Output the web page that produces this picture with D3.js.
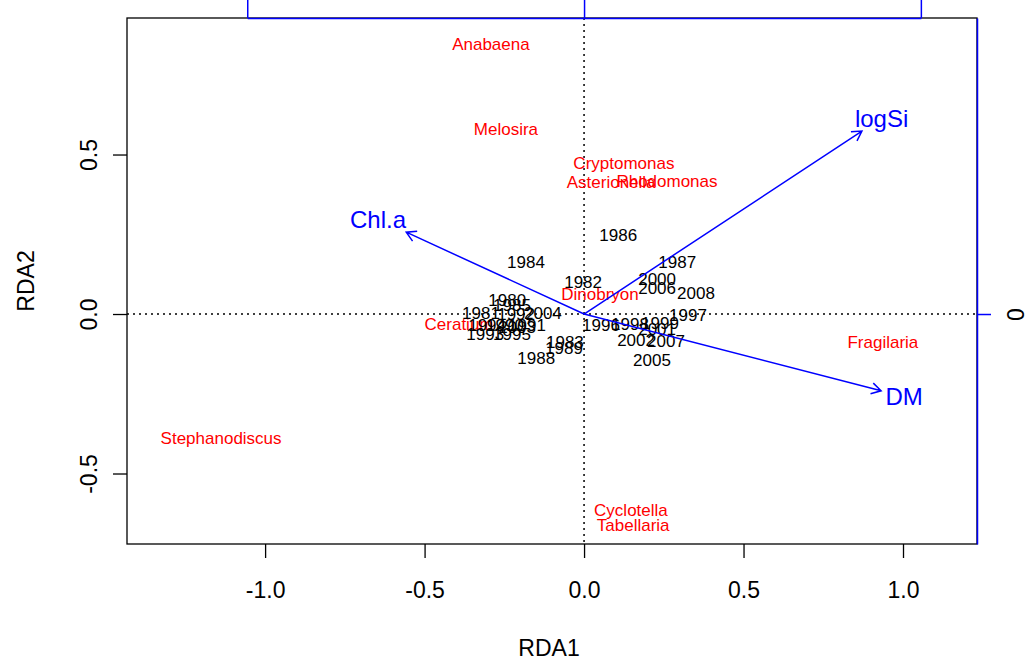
<!DOCTYPE html>
<html>
<head>
<meta charset="utf-8">
<script src="https://cdn.jsdelivr.net/npm/d3@7"></script>
<style>
  body { margin: 0; background: #fff; }
  svg { display: block; }
  text { font-family: "Liberation Sans", Arial, Helvetica, sans-serif; }
</style>
</head>
<body>
<svg id="chart" width="1031" height="664"></svg>
<script>
// RDA triplot: site (year) scores, species scores, environmental biplot arrows

const siteNames = ["1980","1981","1982","1983","1984","1985","1986","1987","1988","1989",
  "1990","1991","1992","1993","1994","1995","1996","1997","1998","1999",
  "2000","2001","2002","2003","2004","2005","2006","2007","2008"];
const siteRDA1 = [-0.241,-0.323,-0.003,-0.060,-0.182,-0.226, 0.107, 0.292,-0.150,-0.063,
  -0.248,-0.179,-0.213,-0.310,-0.304,-0.226, 0.053, 0.326, 0.144, 0.238,
   0.229, 0.229, 0.163,-0.210,-0.129, 0.213, 0.229, 0.257, 0.351];
const siteRDA2 = [ 0.044, 0.003, 0.100,-0.088, 0.163, 0.028, 0.248, 0.163,-0.138,-0.107,
  -0.034,-0.034, 0.000,-0.063,-0.034,-0.063,-0.034,-0.003,-0.031,-0.028,
   0.110,-0.047,-0.082,-0.041, 0.003,-0.144, 0.082,-0.085, 0.066];

const speciesNames = ["Anabaena","Melosira","Cryptomonas","Asterionella","Rhodomonas",
  "Dinobryon","Ceratium","Fragilaria","Stephanodiscus","Cyclotella","Tabellaria"];
const speciesRDA1 = [-0.292,-0.245, 0.125, 0.085, 0.260, 0.050,-0.392, 0.937,-1.138, 0.147, 0.154];
const speciesRDA2 = [ 0.846, 0.580, 0.473, 0.414, 0.417, 0.063,-0.031,-0.088,-0.389,-0.614,-0.661];

const envNames = ["logSi","Chl.a","DM"];
const envRDA1 = [ 0.825,-0.528, 0.882];
const envRDA2 = [ 0.543, 0.243,-0.228];
const arrowMul = 1.056;               // biplot arrow multiplier
const biplotTicks = [-2, -1, 0, 1, 2];

const xTicks = [-1.0, -0.5, 0.0, 0.5, 1.0];
const yTicks = [-0.5, 0.0, 0.5];
const xLimits = [-1.433, 1.232];
const yLimits = [-0.721, 0.928];
const xTitle = "RDA1";
const yTitle = "RDA2";

const box = { left: 127, right: 977, top: 18, bottom: 544 };
const svg = d3.select("#chart");

const x = d3.scaleLinear().domain(xLimits).range([box.left, box.right]);
const y = d3.scaleLinear().domain(yLimits).range([box.bottom, box.top]);
const fmt = d => d.toFixed(1);
const TICK = 14;

// bottom axis
const gx = svg.append("g").attr("transform", `translate(0,${box.bottom})`)
  .call(d3.axisBottom(x).tickValues(xTicks).tickFormat(fmt).tickSize(TICK).tickSizeOuter(0).tickPadding(24));
gx.select(".domain").remove();
gx.selectAll("line").attr("stroke", "#000").attr("stroke-width", 1.3);
gx.selectAll("text").attr("font-size", 23).attr("fill", "#000").attr("font-family", null);

// left axis, labels parallel to the axis
const gy = svg.append("g").attr("transform", `translate(${box.left},0)`)
  .call(d3.axisLeft(y).tickValues(yTicks).tickFormat(fmt).tickSize(TICK).tickSizeOuter(0));
gy.select(".domain").remove();
gy.selectAll("line").attr("stroke", "#000").attr("stroke-width", 1.3);
gy.selectAll("text")
  .attr("font-size", 23).attr("fill", "#000").attr("font-family", null)
  .attr("x", null).attr("dy", null).attr("text-anchor", "middle")
  .attr("transform", "translate(-30,0) rotate(-90)");

// axis titles
svg.append("text").attr("x", x(0) - 35).attr("y", 656).attr("text-anchor", "middle")
  .attr("font-size", 23).text(xTitle);
svg.append("text").attr("transform", `translate(34,${(box.top + box.bottom) / 2}) rotate(-90)`)
  .attr("text-anchor", "middle").attr("font-size", 23).text(yTitle);

// origin cross-hairs
const plot = svg.append("g");
plot.append("line").attr("x1", box.left).attr("x2", box.right).attr("y1", y(0)).attr("y2", y(0))
  .attr("stroke", "#000").attr("stroke-width", 1.5).attr("stroke-dasharray", "2 4");
plot.append("line").attr("x1", x(0)).attr("x2", x(0)).attr("y1", box.top).attr("y2", box.bottom)
  .attr("stroke", "#000").attr("stroke-width", 1.5).attr("stroke-dasharray", "2 4");

// species scores
plot.selectAll(".sp").data(speciesNames).join("text").attr("class", "sp")
  .attr("x", (d, i) => x(speciesRDA1[i])).attr("y", (d, i) => y(speciesRDA2[i]))
  .attr("dy", "0.36em").attr("text-anchor", "middle").attr("font-size", 17)
  .attr("fill", "#ff0000").text(d => d);

// site scores
plot.selectAll(".site").data(siteNames).join("text").attr("class", "site")
  .attr("x", (d, i) => x(siteRDA1[i])).attr("y", (d, i) => y(siteRDA2[i]))
  .attr("dy", "0.36em").attr("text-anchor", "middle").attr("font-size", 17)
  .attr("fill", "#000").text(d => d);

// biplot arrows
const envFont = 24;
const head = 11, ang = Math.PI / 6;
envNames.forEach((name, i) => {
  const x0 = x(0), y0 = y(0);
  const x1 = x(envRDA1[i] * arrowMul), y1 = y(envRDA2[i] * arrowMul);
  const th = Math.atan2(y1 - y0, x1 - x0);
  const p = d3.path();
  p.moveTo(x0, y0); p.lineTo(x1, y1);
  p.moveTo(x1 - head * Math.cos(th - ang), y1 - head * Math.sin(th - ang));
  p.lineTo(x1, y1);
  p.lineTo(x1 - head * Math.cos(th + ang), y1 - head * Math.sin(th + ang));
  plot.append("path").attr("d", p.toString()).attr("fill", "none")
    .attr("stroke", "#0000ff").attr("stroke-width", 1.5);

  // label placed on the continuation of the arrow, just beyond its tip
  const t = plot.append("text").attr("font-size", envFont).attr("fill", "#0000ff")
    .attr("text-anchor", "middle").attr("dy", "0.36em").text(name);
  const w = t.node().getComputedTextLength();
  const h = envFont * 0.72;
  const dx = x1 - x0, dyv = y0 - y1;          // upward positive
  const b = dyv / dx;
  let ox = Math.sign(dx) * (w / 2 + h / 4), oy = 0.75 * h * Math.sign(dyv);
  const move = oy / b;
  if (isFinite(move) && Math.abs(move) <= Math.abs(ox)) ox = move; else oy = b * ox;
  t.attr("x", x1 + ox).attr("y", y1 - oy);
});

// frame
svg.append("rect").attr("x", box.left).attr("y", box.top)
  .attr("width", box.right - box.left).attr("height", box.bottom - box.top)
  .attr("fill", "none").attr("stroke", "#000").attr("stroke-width", 1.3);

// biplot scale axes (top: unlabeled, right: labeled)
const topScale = d3.scaleLinear().domain([-1, 1]).range([x(-arrowMul), x(arrowMul)]);
const gt = svg.append("g").attr("transform", `translate(0,${box.top})`)
  .call(d3.axisTop(topScale).tickValues([-1, 0, 1]).tickFormat("").tickSize(TICK + 4).tickSizeOuter(0));
gt.selectAll("line, path").attr("stroke", "#0000ff").attr("stroke-width", 1.5);

const rightScale = d3.scaleLinear().domain(yLimits.map(v => v / arrowMul)).range([box.bottom, box.top]);
const inRange = biplotTicks.filter(v => v >= rightScale.domain()[0] && v <= rightScale.domain()[1]);
const gr = svg.append("g").attr("transform", `translate(${box.right},0)`)
  .call(d3.axisRight(rightScale).tickValues(inRange).tickFormat(d => String(d)).tickSize(TICK).tickSizeOuter(0));
gr.selectAll("line, path").attr("stroke", "#0000ff").attr("stroke-width", 1.5);
gr.selectAll("text")
  .attr("font-size", 23).attr("fill", "#000").attr("font-family", null)
  .attr("x", null).attr("dy", null).attr("text-anchor", "middle")
  .attr("transform", "translate(47,0) rotate(-90)");
</script>
</body>
</html>
